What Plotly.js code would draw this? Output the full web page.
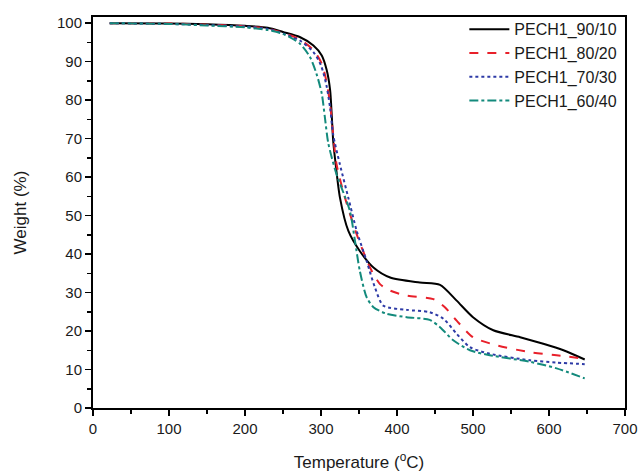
<!DOCTYPE html>
<html>
<head>
<meta charset="utf-8">
<script src="https://cdn.plot.ly/plotly-3.0.1.min.js"></script>
<style>html,body{margin:0;padding:0;background:#fff;}#chart{width:638px;height:472px;}</style>
</head>
<body>
<div id="chart"></div>
<script>
// Temperature (°C) and weight (%) for each blend
const seriesNames = ["PECH1_90/10", "PECH1_80/20", "PECH1_70/30", "PECH1_60/40"];

const t9010 = [22, 100, 150, 200, 230, 250, 272, 290, 301, 307.5, 312, 314, 316, 318.4, 325, 336, 351, 369, 391, 430, 456.6, 478.5, 500, 526.7, 562, 592.5, 619, 647];
const w9010 = [100, 99.9, 99.7, 99.3, 98.8, 97.7, 96.4, 94.2, 91.6, 87.8, 82.6, 76.6, 69.5, 64.9, 54.6, 46, 40.8, 36.5, 33.9, 32.6, 32, 27.9, 23.6, 20.2, 18.4, 16.7, 15, 12.6];

const t8020 = [22, 100, 150, 200, 230, 250, 272, 290, 301, 307, 312, 316, 320.6, 331.6, 347, 364.5, 377.6, 391, 412.7, 448, 463, 478.5, 500, 531, 575, 610, 647];
const w8020 = [100, 99.9, 99.6, 99.2, 98.6, 97.5, 95.8, 93, 89.5, 85, 79, 71, 63.2, 54.6, 45.1, 36.5, 32.2, 30.5, 29.2, 28.3, 26.2, 22.7, 18.4, 16.3, 14.5, 13.7, 12.8];

const t7030 = [22, 100, 150, 200, 230, 250, 272, 290, 300, 307, 312, 316, 325, 336, 347, 360, 371, 382, 412.7, 443, 461, 478.5, 496, 522, 575, 610, 647];
const w7030 = [100, 99.8, 99.5, 99.1, 98.5, 97.3, 95.5, 92.5, 89, 84, 78, 71, 63.2, 54.6, 46, 38.2, 31.3, 26.6, 25.5, 24.9, 23.2, 19.3, 15.8, 14.1, 12.4, 11.8, 11.4];

const t6040 = [22, 100, 150, 200, 230, 250, 272, 285.5, 294, 301, 305, 309.6, 320, 338, 344.7, 351, 360, 369, 386, 412.7, 443, 456.6, 474, 496, 522, 575, 610, 647];
const w6040 = [100, 99.8, 99.4, 98.9, 98.2, 97.2, 94.7, 91.2, 86.9, 81.7, 75.7, 68.8, 61, 51.2, 43.4, 35.7, 28.8, 26.2, 24.5, 23.6, 22.9, 21, 17.6, 15, 13.7, 12, 10.3, 7.7];

const xTicks = [0, 100, 200, 300, 400, 500, 600, 700];
const yTicks = [0, 10, 20, 30, 40, 50, 60, 70, 80, 90, 100];

const xs = [t9010, t8020, t7030, t6040];
const ys = [w9010, w8020, w7030, w6040];
const colors = ["#000000", "#e8202a", "#2d3aa6", "#138a7c"];
const dashes = ["solid", "dash", "dot", "dashdot"];

const traces = seriesNames.map((n, i) => ({
  x: xs[i], y: ys[i], name: n, type: "scatter", mode: "lines",
  line: {color: colors[i], width: 2, dash: dashes[i], shape: "spline", smoothing: 0.7}
}));

const fam = "Arial, 'Liberation Sans', sans-serif";
const txt = "#1a1a1a";

const layout = {
  width: 638, height: 472,
  margin: {l: 93, r: 13, t: 15, b: 64},
  paper_bgcolor: "#fff", plot_bgcolor: "#fff",
  font: {family: fam, color: txt, size: 15},
  showlegend: true,
  legend: {x: 0.995, y: 1.012, xanchor: "right", yanchor: "top", bgcolor: "rgba(0,0,0,0)",
           font: {family: fam, size: 16, color: txt}, tracegroupgap: 0, itemwidth: 40},
  xaxis: {
    range: [0, 700], tickvals: xTicks, ticktext: xTicks.map(String),
    ticks: "outside", ticklen: 6, tickwidth: 1.5, tickcolor: "#000",
    minor: {dtick: 50, tick0: 0, ticks: "outside", ticklen: 4, tickwidth: 1.5, tickcolor: "#000", showgrid: false},
    showline: true, linecolor: "#000", linewidth: 2, mirror: true,
    showgrid: false, zeroline: false, automargin: false,
    tickfont: {family: fam, size: 15, color: txt},
    title: {text: "Temperature (<sup>o</sup>C)", font: {family: fam, size: 17, color: txt}, standoff: 20}
  },
  yaxis: {
    range: [0, 101.6], tickvals: yTicks, ticktext: yTicks.map(String),
    ticks: "outside", ticklen: 6, tickwidth: 1.5, tickcolor: "#000",
    minor: {dtick: 5, tick0: 0, ticks: "outside", ticklen: 4, tickwidth: 1.5, tickcolor: "#000", showgrid: false},
    showline: true, linecolor: "#000", linewidth: 2, mirror: true,
    showgrid: false, zeroline: false, automargin: false,
    tickfont: {family: fam, size: 15, color: txt},
    title: {text: "Weight (%)", font: {family: fam, size: 17, color: txt}, standoff: 26}
  }
};

Plotly.newPlot("chart", traces, layout, {displayModeBar: false, staticPlot: true});
</script>
</body>
</html>
